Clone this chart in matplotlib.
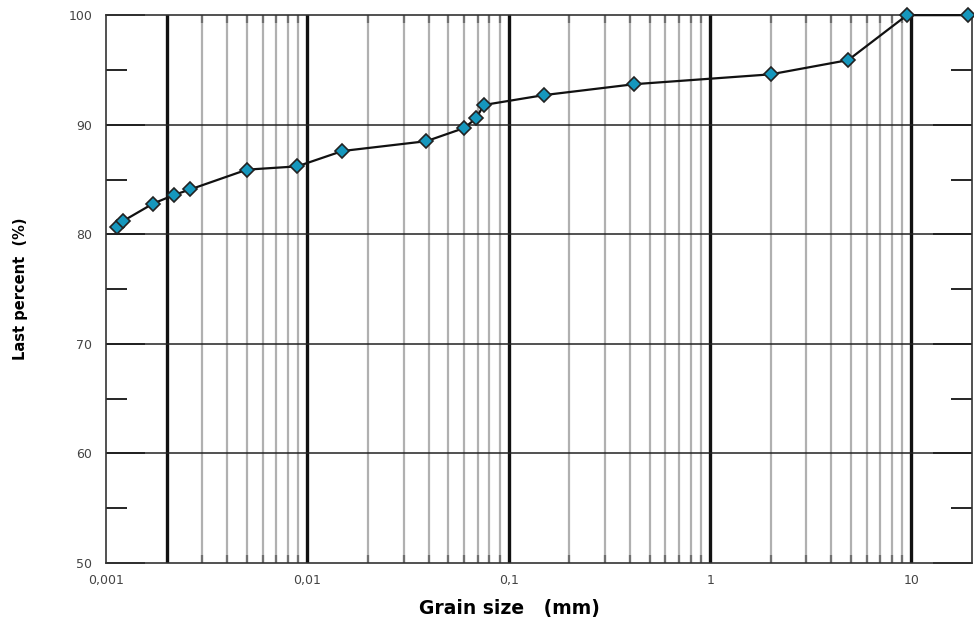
import matplotlib
matplotlib.use("Agg")
import matplotlib.pyplot as plt
from matplotlib.ticker import FixedLocator, FixedFormatter, MultipleLocator
import numpy as np

# grain size distribution
grain_mm = [0.00113, 0.00121, 0.00171, 0.00218, 0.00262, 0.0050, 0.0089, 0.0149,
            0.039, 0.060, 0.069, 0.075, 0.149, 0.42, 2.0, 4.85, 9.5, 19.2]
passing = [80.7, 81.2, 82.8, 83.6, 84.1, 85.9, 86.2, 87.6,
           88.5, 89.7, 90.6, 91.8, 92.7, 93.7, 94.6, 95.9, 100.0, 100.0]

x_ticks = [0.001, 0.01, 0.1, 1, 10]
x_tick_labels = ["0,001", "0,01", "0,1", "1", "10"]
heavy_lines = [0.002, 0.01, 0.1, 1, 10]

fig = plt.figure(figsize=(9.74, 6.19), dpi=100)
ax = fig.add_axes([0.109, 0.0905, 0.889, 0.885])

ax.set_xscale("log")
ax.set_xlim(0.001, 20)
ax.set_ylim(50, 100)

# light lines for every sub-decade value, heavy ones at the decades
minor = []
for dec in [0.001, 0.01, 0.1, 1, 10]:
    for k in range(2, 10):
        v = dec * k
        if v < 20 and not any(np.isclose(v, h) for h in heavy_lines):
            minor.append(v)
for v in minor:
    ax.axvline(v, color="#b0b0b0", lw=1.6, zorder=1)
for v in heavy_lines:
    ax.axvline(v, color="#111111", lw=2.4, zorder=2)
for v in [60, 70, 80, 90]:
    ax.axhline(v, color="#222222", lw=1.1, zorder=2)

ax.plot(grain_mm, passing, color="#111111", lw=1.6, marker="D", markersize=7,
        markerfacecolor="#1597bd", markeredgecolor="#222222", markeredgewidth=1.2, zorder=5,
        clip_on=False)

ax.xaxis.set_major_locator(FixedLocator(x_ticks))
ax.xaxis.set_major_formatter(FixedFormatter(x_tick_labels))
ax.xaxis.set_minor_locator(FixedLocator(minor))
ax.tick_params(axis="x", which="major", direction="in", length=0, pad=8,
               labelsize=9, labelcolor="#444444")
ax.tick_params(axis="x", which="minor", direction="in", length=6, width=1.6,
               color="#707070", top=True, bottom=True)

ax.yaxis.set_major_locator(MultipleLocator(10))
ax.yaxis.set_minor_locator(MultipleLocator(5))
ax.tick_params(axis="y", which="major", direction="in", length=28, width=1.2,
               left=True, right=True, labelsize=9, labelcolor="#444444", pad=10)
ax.tick_params(axis="y", which="minor", direction="in", length=15, width=1.2,
               left=True, right=True)

for s in ax.spines.values():
    s.set_color("#333333")
    s.set_linewidth(1.2)

ax.set_ylabel("Last percent  (%)", fontsize=10.5, fontweight="bold",
              family=["Liberation Sans Narrow", "DejaVu Sans"])
ax.yaxis.set_label_coords(-0.09, 0.5)
ax.set_xlabel("Grain size   (mm)", fontsize=13.5, fontweight="bold",
              family=["DejaVu Sans"])
ax.xaxis.set_label_coords(0.466, -0.066)

fig.savefig("out.png", dpi=100)
